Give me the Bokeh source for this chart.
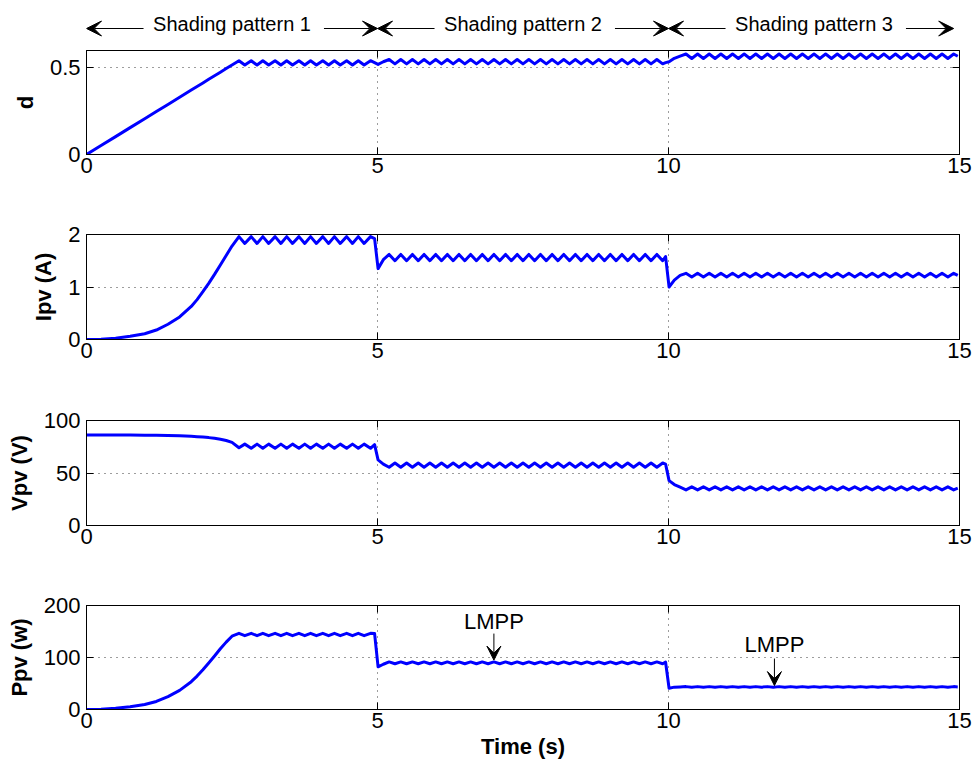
from bokeh.plotting import figure
from bokeh.layouts import column
from bokeh.models import (Range1d, FixedTicker, LinearAxis, Arrow, VeeHead, Label,
                          NumeralTickFormatter, CustomJSTickFormatter)
from bokeh.embed import file_html
from bokeh.resources import INLINE

FONT = "Liberation Sans"

# ------------------------------------------------------------------ data
# start-up transient (shared time base)
T_START = [0.0, 0.25, 0.5, 0.75, 1.0, 1.2, 1.4, 1.6, 1.8, 1.9, 2.0, 2.1, 2.2, 2.3, 2.4, 2.5, 2.62]
D_START = [0.0, 0.052, 0.103, 0.155, 0.206, 0.248, 0.289, 0.330, 0.372, 0.392, 0.413,
           0.434, 0.454, 0.475, 0.496, 0.516, 0.541]
I_START = [0.0, 0.006, 0.025, 0.06, 0.11, 0.18, 0.29, 0.43, 0.63, 0.76, 0.91,
           1.07, 1.24, 1.42, 1.60, 1.78, 1.96]
V_START = [86.3, 86.3, 86.2, 86.1, 86.0, 85.9, 85.7, 85.4, 84.9, 84.6, 84.2,
           83.7, 83.0, 82.2, 81.0, 79.2, 74.0]
P_START = [0.0, 0.5, 2.2, 5.2, 9.5, 15.5, 24.9, 36.7, 53.5, 64.3, 76.6,
           89.6, 102.9, 116.7, 129.6, 141.0, 146.5]

# shading pattern 1 (ripple vertices)
P1_T = [2.72, 2.83, 2.93, 3.03, 3.13, 3.24, 3.34, 3.44, 3.54, 3.65, 3.75, 3.85,
        3.95, 4.06, 4.16, 4.26, 4.36, 4.47, 4.57, 4.67, 4.77, 4.88, 4.95]
D_P1 = [0.516, 0.541, 0.516, 0.541, 0.516, 0.541, 0.516, 0.541,
        0.516, 0.541, 0.516, 0.541, 0.516, 0.541, 0.516, 0.541,
        0.516, 0.541, 0.516, 0.541, 0.516, 0.541, 0.530]
I_P1 = [1.83, 1.96, 1.83, 1.96, 1.83, 1.96, 1.83, 1.96,
        1.83, 1.96, 1.83, 1.96, 1.83, 1.96, 1.83, 1.96,
        1.83, 1.96, 1.83, 1.96, 1.83, 1.96, 1.92]
V_P1 = [77.5, 73.5, 77.5, 73.5, 77.5, 73.5, 77.5, 73.5,
        77.5, 73.5, 77.5, 73.5, 77.5, 73.5, 77.5, 73.5,
        77.5, 73.5, 77.5, 73.5, 77.5, 73.5, 77.0]
P_P1 = [142.0, 146.5, 142.0, 146.5, 142.0, 146.5, 142.0, 146.5,
        142.0, 146.5, 142.0, 146.5, 142.0, 146.5, 142.0, 146.5,
        142.0, 146.5, 142.0, 146.5, 142.0, 146.5, 146.0]

# shading pattern 2
P2_T = [5.01, 5.10,
        5.20, 5.30, 5.40, 5.50, 5.60, 5.70, 5.80, 5.90,
        6.00, 6.10, 6.20, 6.30, 6.40, 6.50, 6.60, 6.70,
        6.80, 6.90, 7.00, 7.10, 7.20, 7.30, 7.40, 7.50,
        7.60, 7.70, 7.80, 7.90, 8.00, 8.10, 8.20, 8.30,
        8.40, 8.50, 8.60, 8.70, 8.80, 8.90, 9.00, 9.10,
        9.20, 9.30, 9.40, 9.50, 9.60, 9.70, 9.80, 9.90,
        9.95]
D_P2 = [0.520, 0.535,
        0.548, 0.523, 0.548, 0.523, 0.548, 0.523, 0.548, 0.523,
        0.548, 0.523, 0.548, 0.523, 0.548, 0.523, 0.548, 0.523,
        0.548, 0.523, 0.548, 0.523, 0.548, 0.523, 0.548, 0.523,
        0.548, 0.523, 0.548, 0.523, 0.548, 0.523, 0.548, 0.523,
        0.548, 0.523, 0.548, 0.523, 0.548, 0.523, 0.548, 0.523,
        0.548, 0.523, 0.548, 0.523, 0.548, 0.523, 0.548, 0.523,
        0.530]
I_P2 = [1.35, 1.52,
        1.62, 1.50, 1.62, 1.50, 1.62, 1.50, 1.62, 1.50,
        1.62, 1.50, 1.62, 1.50, 1.62, 1.50, 1.62, 1.50,
        1.62, 1.50, 1.62, 1.50, 1.62, 1.50, 1.62, 1.50,
        1.62, 1.50, 1.62, 1.50, 1.62, 1.50, 1.62, 1.50,
        1.62, 1.50, 1.62, 1.50, 1.62, 1.50, 1.62, 1.50,
        1.62, 1.50, 1.62, 1.50, 1.62, 1.50, 1.62, 1.50,
        1.58]
V_P2 = [62.5, 58.5,
        55.5, 59.6, 55.5, 59.6, 55.5, 59.6, 55.5, 59.6,
        55.5, 59.6, 55.5, 59.6, 55.5, 59.6, 55.5, 59.6,
        55.5, 59.6, 55.5, 59.6, 55.5, 59.6, 55.5, 59.6,
        55.5, 59.6, 55.5, 59.6, 55.5, 59.6, 55.5, 59.6,
        55.5, 59.6, 55.5, 59.6, 55.5, 59.6, 55.5, 59.6,
        55.5, 59.6, 55.5, 59.6, 55.5, 59.6, 55.5, 59.6,
        58.5]
P_P2 = [82.0, 87.0,
        91.5, 88.0, 91.5, 88.0, 91.5, 88.0, 91.5, 88.0,
        91.5, 88.0, 91.5, 88.0, 91.5, 88.0, 91.5, 88.0,
        91.5, 88.0, 91.5, 88.0, 91.5, 88.0, 91.5, 88.0,
        91.5, 88.0, 91.5, 88.0, 91.5, 88.0, 91.5, 88.0,
        91.5, 88.0, 91.5, 88.0, 91.5, 88.0, 91.5, 88.0,
        91.5, 88.0, 91.5, 88.0, 91.5, 88.0, 91.5, 88.0,
        91.0]

# shading pattern 3
P3_T = [10.01, 10.10, 10.20,
        10.30, 10.40, 10.50, 10.60, 10.70, 10.80, 10.90, 11.00,
        11.10, 11.20, 11.30, 11.40, 11.50, 11.60, 11.70, 11.80,
        11.90, 12.00, 12.10, 12.20, 12.30, 12.40, 12.50, 12.60,
        12.70, 12.80, 12.90, 13.00, 13.10, 13.20, 13.30, 13.40,
        13.50, 13.60, 13.70, 13.80, 13.90, 14.00, 14.10, 14.20,
        14.30, 14.40, 14.50, 14.60, 14.70, 14.80, 14.90,
        14.97]
D_P3 = [0.535, 0.555, 0.568,
        0.580, 0.554, 0.580, 0.554, 0.580, 0.554, 0.580, 0.554,
        0.580, 0.554, 0.580, 0.554, 0.580, 0.554, 0.580, 0.554,
        0.580, 0.554, 0.580, 0.554, 0.580, 0.554, 0.580, 0.554,
        0.580, 0.554, 0.580, 0.554, 0.580, 0.554, 0.580, 0.554,
        0.580, 0.554, 0.580, 0.554, 0.580, 0.554, 0.580, 0.554,
        0.580, 0.554, 0.580, 0.554, 0.580, 0.554, 0.580,
        0.567]
I_P3 = [1.00, 1.13, 1.22,
        1.26, 1.19, 1.26, 1.19, 1.26, 1.19, 1.26, 1.19,
        1.26, 1.19, 1.26, 1.19, 1.26, 1.19, 1.26, 1.19,
        1.26, 1.19, 1.26, 1.19, 1.26, 1.19, 1.26, 1.19,
        1.26, 1.19, 1.26, 1.19, 1.26, 1.19, 1.26, 1.19,
        1.26, 1.19, 1.26, 1.19, 1.26, 1.19, 1.26, 1.19,
        1.26, 1.19, 1.26, 1.19, 1.26, 1.19, 1.26,
        1.22]
V_P3 = [42.7, 39.0, 36.5,
        33.9, 36.8, 33.9, 36.8, 33.9, 36.8, 33.9, 36.8,
        33.9, 36.8, 33.9, 36.8, 33.9, 36.8, 33.9, 36.8,
        33.9, 36.8, 33.9, 36.8, 33.9, 36.8, 33.9, 36.8,
        33.9, 36.8, 33.9, 36.8, 33.9, 36.8, 33.9, 36.8,
        33.9, 36.8, 33.9, 36.8, 33.9, 36.8, 33.9, 36.8,
        33.9, 36.8, 33.9, 36.8, 33.9, 36.8, 33.9,
        35.5]
P_P3 = [41.0, 43.0, 43.5,
        44.0, 43.0, 44.0, 43.0, 44.0, 43.0, 44.0, 43.0,
        44.0, 43.0, 44.0, 43.0, 44.0, 43.0, 44.0, 43.0,
        44.0, 43.0, 44.0, 43.0, 44.0, 43.0, 44.0, 43.0,
        44.0, 43.0, 44.0, 43.0, 44.0, 43.0, 44.0, 43.0,
        44.0, 43.0, 44.0, 43.0, 44.0, 43.0, 44.0, 43.0,
        44.0, 43.0, 44.0, 43.0, 44.0, 43.0, 44.0,
        43.5]

X_TICKS = [0, 5, 10, 15]
D_TICKS = [0, 0.5]
I_TICKS = [0, 1, 2]
V_TICKS = [0, 50, 100]
P_TICKS = [0, 100, 200]
Y_LABELS = ["d", "Ipv (A)", "Vpv (V)", "Ppv (w)"]
X_LABEL = "Time (s)"
PATTERN_NAMES = ["Shading pattern 1", "Shading pattern 2", "Shading pattern 3"]
PATTERN_BOUNDS = [0, 5, 10, 15]
LMPP_TEXT = "LMPP"

# ------------------------------------------------------------------ helpers
T_ALL = T_START + P1_T + P2_T + P3_T


def panel(ylabel, ymax, yticks, yvals, top, frame_h, bottom, xlabel=None, yfmt=None):
    p = figure(frame_width=873, frame_height=frame_h,
               x_range=Range1d(0, 15), y_range=Range1d(0, ymax),
               output_backend="svg", toolbar_location=None,
               min_border_left=86, min_border_right=16,
               min_border_top=top, min_border_bottom=bottom,
               background_fill_color="white", border_fill_color="white")
    p.outline_line_color = "black"
    p.outline_line_width = 1

    p.xgrid.ticker = FixedTicker(ticks=X_TICKS)
    p.ygrid.ticker = FixedTicker(ticks=yticks)
    for g in (p.xgrid, p.ygrid):
        g.grid_line_color = "#3a3a3a"
        g.grid_line_dash = "1 5"
        g.grid_line_width = 1

    p.line(T_ALL, yvals, line_color="#0000ff", line_width=3, line_join="round")

    xa = p.xaxis[0]
    ya = p.yaxis[0]
    xa.ticker = FixedTicker(ticks=X_TICKS)
    ya.ticker = FixedTicker(ticks=yticks)
    if yfmt is not None:
        ya.formatter = yfmt
    for ax in (xa, ya):
        ax.major_tick_in = 7
        ax.major_tick_out = 0
        ax.minor_tick_in = 0
        ax.minor_tick_out = 0
        ax.axis_line_color = "black"
        ax.major_tick_line_color = "black"
        ax.major_label_text_font = FONT
        ax.major_label_text_font_size = "22px"
        ax.major_label_text_color = "black"
        ax.axis_label_text_font = FONT
        ax.axis_label_text_font_size = "22px"
        ax.axis_label_text_font_style = "bold"
        ax.axis_label_text_color = "black"
    xa.major_label_standoff = 3
    ya.major_label_standoff = 6
    ya.axis_label = ylabel
    ya.axis_label_standoff = 9
    if xlabel:
        xa.axis_label = xlabel
        xa.axis_label_standoff = 3

    blank = CustomJSTickFormatter(code="return ''")
    for loc, ticks in (("above", X_TICKS), ("right", yticks)):
        ax = LinearAxis(ticker=FixedTicker(ticks=ticks), formatter=blank,
                        major_tick_in=7, major_tick_out=0,
                        minor_tick_in=0, minor_tick_out=0,
                        major_label_standoff=0,
                        major_label_text_font_size="1px",
                        axis_line_color="black", major_tick_line_color="black")
        p.add_layout(ax, loc)
    return p


# ---- header strip carrying the shading-pattern arrows
HDR_H = 44
hdr = figure(frame_width=873, frame_height=HDR_H,
             x_range=Range1d(0, 15), y_range=Range1d(0, HDR_H),
             output_backend="svg", toolbar_location=None,
             min_border_left=86, min_border_right=16,
             min_border_top=0, min_border_bottom=0,
             background_fill_color="white", border_fill_color="white")
hdr.axis.visible = False
hdr.grid.visible = False
hdr.outline_line_color = None

ARROW_Y = HDR_H - 28
TEXT_Y = HDR_H - 23
for i, name in enumerate(PATTERN_NAMES):
    a, b = PATTERN_BOUNDS[i], PATTERN_BOUNDS[i + 1]
    mid = (a + b) / 2.0
    hdr.add_layout(Label(x=mid, y=TEXT_Y, text=name, text_align="center",
                         text_baseline="alphabetic", text_font=FONT,
                         text_font_size="20px", text_color="black"))
    right_end = b if i < 2 else b - 0.1
    hdr.add_layout(Arrow(end=VeeHead(size=15, fill_color="black", line_color="black"),
                         x_start=a + 0.98, y_start=ARROW_Y, x_end=a, y_end=ARROW_Y,
                         line_color="black", line_width=1))
    hdr.add_layout(Arrow(end=VeeHead(size=15, fill_color="black", line_color="black"),
                         x_start=b - 0.92, y_start=ARROW_Y, x_end=right_end, y_end=ARROW_Y,
                         line_color="black", line_width=1))

f1 = panel(Y_LABELS[0], 0.6, D_TICKS, D_START + D_P1 + D_P2 + D_P3, 50 - HDR_H, 104, 31,
           yfmt=NumeralTickFormatter(format="0.[0]"))
f2 = panel(Y_LABELS[1], 2, I_TICKS, I_START + I_P1 + I_P2 + I_P3, 49, 105, 31)
f3 = panel(Y_LABELS[2], 100, V_TICKS, V_START + V_P1 + V_P2 + V_P3, 50, 105, 30)
f4 = panel(Y_LABELS[3], 200, P_TICKS, P_START + P_P1 + P_P2 + P_P3, 50, 104, 56,
           xlabel=X_LABEL)

# ---- LMPP markers on the power panel
for xt, ytxt, y0, y1 in ((7.0, 170, 146, 95), (11.82, 125, 98, 46)):
    f4.add_layout(Label(x=xt, y=ytxt, text=LMPP_TEXT, text_align="center",
                        text_baseline="alphabetic", text_font=FONT,
                        text_font_size="22px", text_color="black"))
    f4.add_layout(Arrow(end=VeeHead(size=14, fill_color="black", line_color="black"),
                        x_start=xt, y_start=y0, x_end=xt, y_end=y1,
                        line_color="black", line_width=1))

layout = column(hdr, f1, f2, f3, f4, spacing=0)
open("out.html", "w").write(file_html(layout, INLINE))
